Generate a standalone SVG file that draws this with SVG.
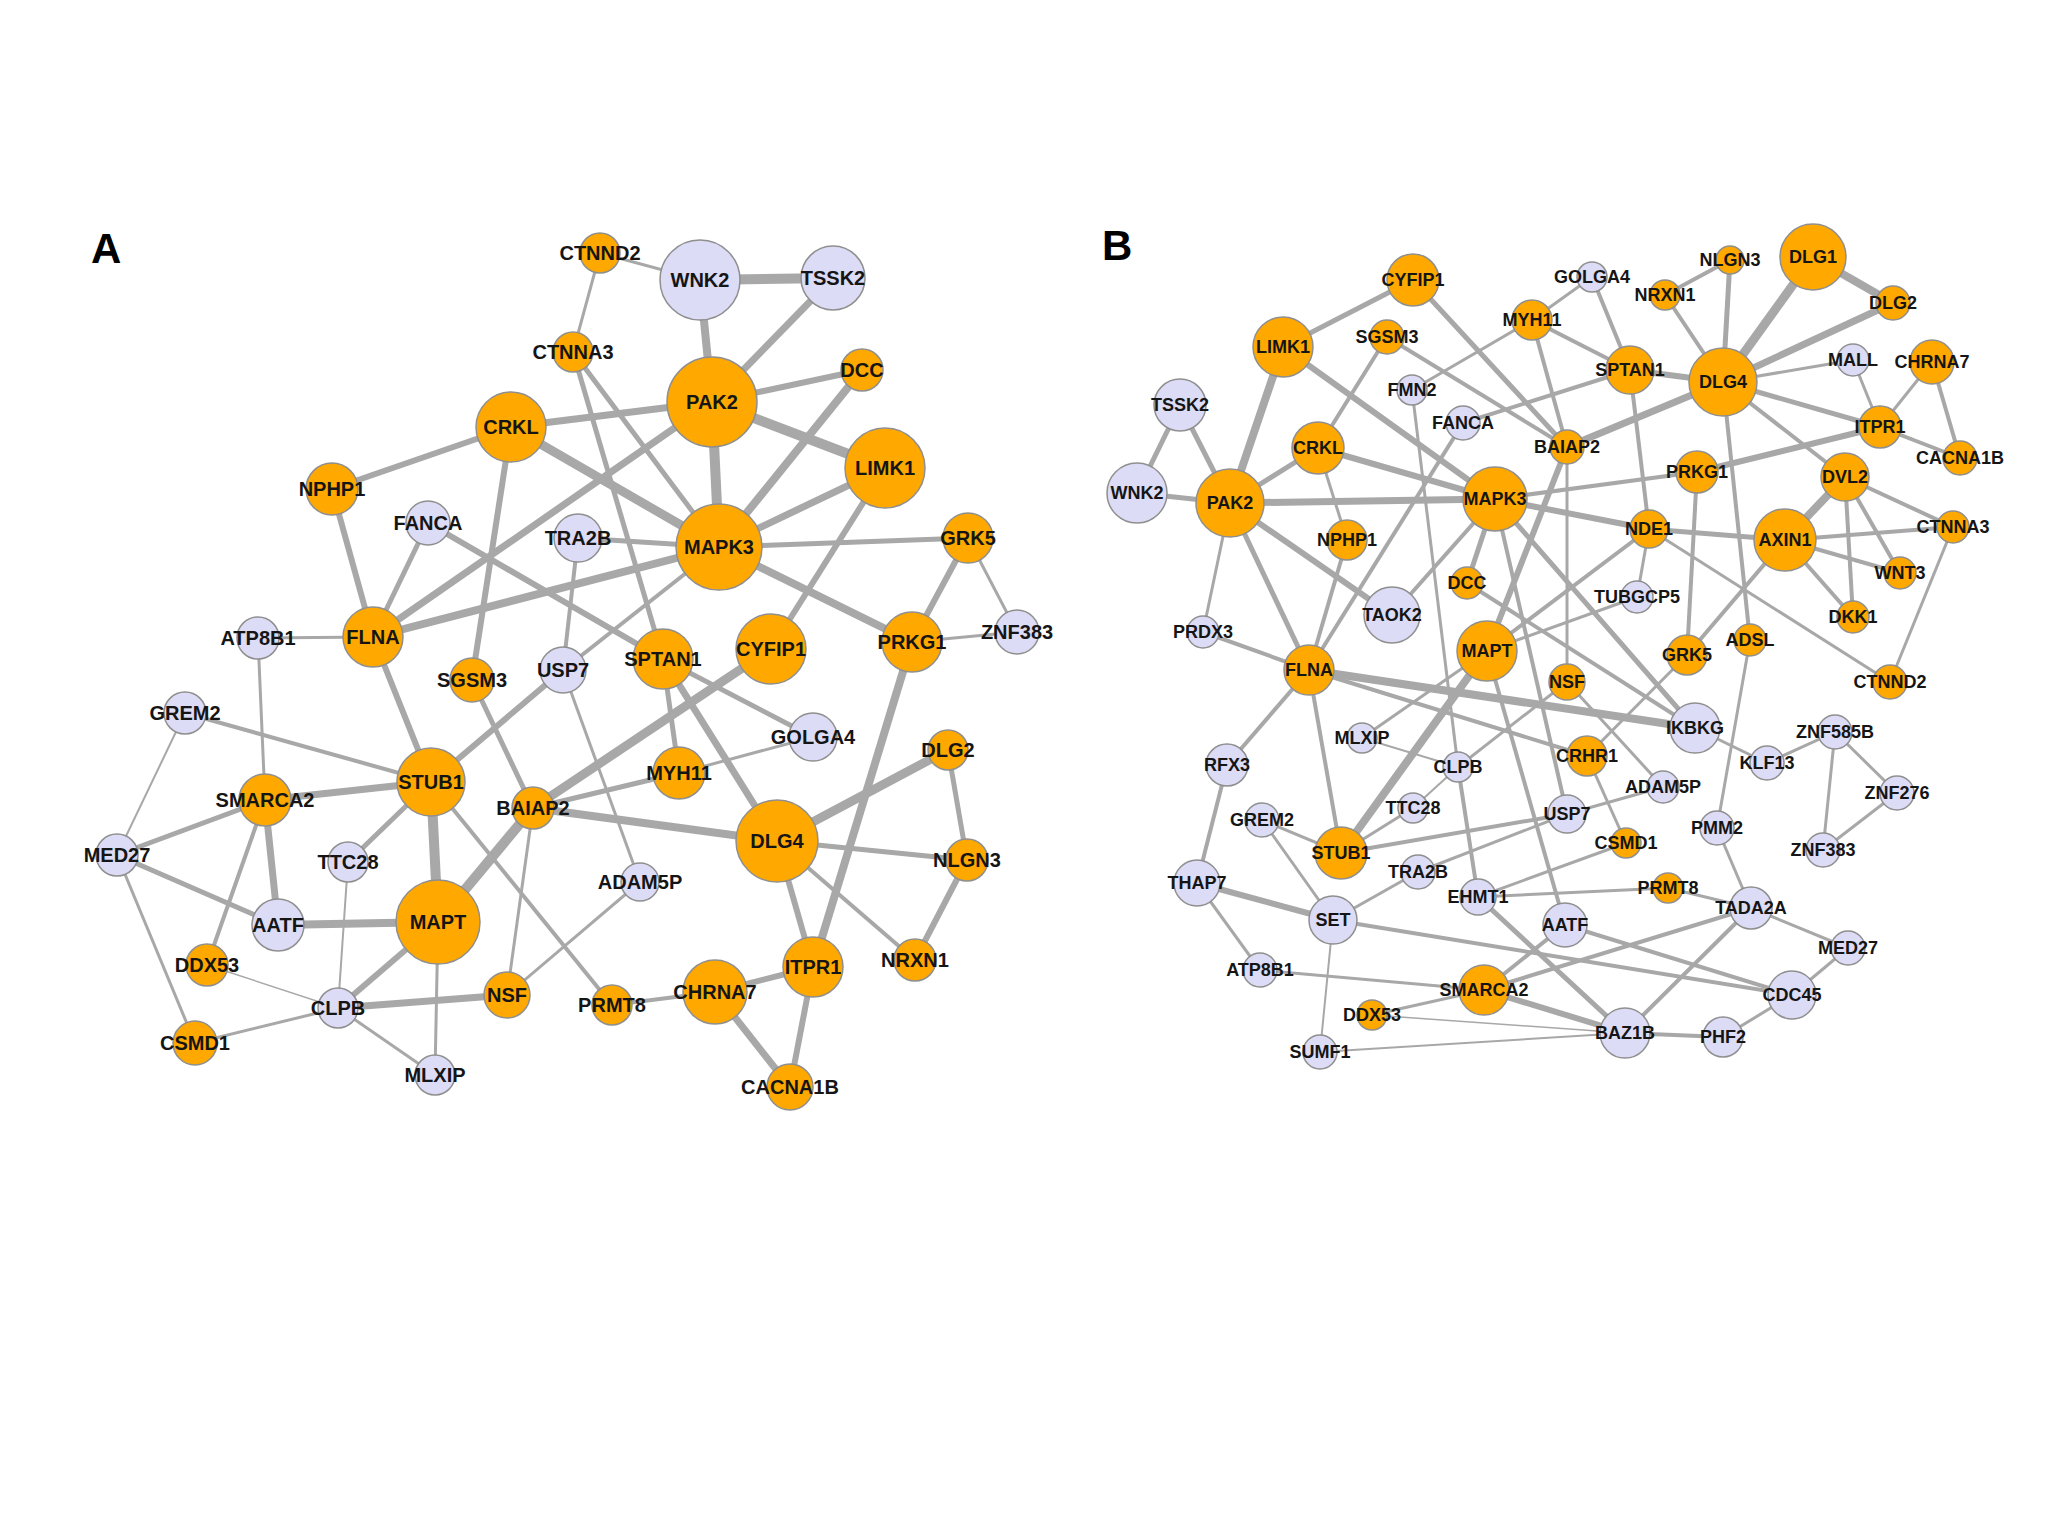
<svg xmlns="http://www.w3.org/2000/svg" width="2048" height="1536" viewBox="0 0 2048 1536">
<style>
.e{stroke:#a8a8a8;stroke-linecap:butt;fill:none}
.o{fill:#FFA800;stroke:#8f8f8f;stroke-width:1.5}
.l{fill:#DCDCF6;stroke:#8f8f8f;stroke-width:1.5}
.ta{font-family:"Liberation Sans",Arial,sans-serif;font-weight:bold;font-size:20px;fill:#151515;text-anchor:middle;dominant-baseline:central}
.tb{font-family:"Liberation Sans",Arial,sans-serif;font-weight:bold;font-size:18px;fill:#151515;text-anchor:middle;dominant-baseline:central}
.p{font-family:"Liberation Sans",Arial,sans-serif;font-weight:bold;font-size:42px;fill:#000}
</style>
<rect width="2048" height="1536" fill="#ffffff"/>
<text class="p" x="91" y="263">A</text>
<text class="p" x="1102" y="260">B</text>
<g id="connectors-A" class="e">
<line x1="600" y1="253" x2="700" y2="280" stroke-width="3"/>
<line x1="600" y1="253" x2="573" y2="352" stroke-width="3"/>
<line x1="700" y1="280" x2="833" y2="278" stroke-width="10"/>
<line x1="700" y1="280" x2="712" y2="402" stroke-width="8"/>
<line x1="833" y1="278" x2="712" y2="402" stroke-width="7"/>
<line x1="712" y1="402" x2="862" y2="370" stroke-width="6"/>
<line x1="712" y1="402" x2="885" y2="468" stroke-width="10"/>
<line x1="712" y1="402" x2="719" y2="547" stroke-width="10"/>
<line x1="712" y1="402" x2="511" y2="427" stroke-width="7"/>
<line x1="712" y1="402" x2="373" y2="637" stroke-width="7"/>
<line x1="573" y1="352" x2="719" y2="547" stroke-width="5"/>
<line x1="573" y1="352" x2="663" y2="659" stroke-width="5"/>
<line x1="511" y1="427" x2="719" y2="547" stroke-width="9"/>
<line x1="511" y1="427" x2="332" y2="489" stroke-width="6"/>
<line x1="511" y1="427" x2="472" y2="680" stroke-width="6"/>
<line x1="332" y1="489" x2="373" y2="637" stroke-width="6"/>
<line x1="428" y1="523" x2="373" y2="637" stroke-width="5"/>
<line x1="428" y1="523" x2="663" y2="659" stroke-width="6"/>
<line x1="373" y1="637" x2="719" y2="547" stroke-width="8"/>
<line x1="258" y1="638" x2="373" y2="637" stroke-width="3"/>
<line x1="258" y1="638" x2="265" y2="800" stroke-width="3"/>
<line x1="373" y1="637" x2="431" y2="782" stroke-width="6"/>
<line x1="578" y1="538" x2="719" y2="547" stroke-width="5"/>
<line x1="578" y1="538" x2="563" y2="670" stroke-width="4"/>
<line x1="719" y1="547" x2="563" y2="670" stroke-width="4"/>
<line x1="719" y1="547" x2="862" y2="370" stroke-width="8"/>
<line x1="719" y1="547" x2="885" y2="468" stroke-width="7"/>
<line x1="719" y1="547" x2="968" y2="538" stroke-width="5"/>
<line x1="719" y1="547" x2="912" y2="642" stroke-width="8"/>
<line x1="885" y1="468" x2="771" y2="649" stroke-width="6"/>
<line x1="968" y1="538" x2="912" y2="642" stroke-width="6"/>
<line x1="968" y1="538" x2="1017" y2="632" stroke-width="3"/>
<line x1="912" y1="642" x2="1017" y2="632" stroke-width="3"/>
<line x1="912" y1="642" x2="813" y2="967" stroke-width="8"/>
<line x1="663" y1="659" x2="813" y2="737" stroke-width="5"/>
<line x1="663" y1="659" x2="679" y2="773" stroke-width="5"/>
<line x1="663" y1="659" x2="777" y2="841" stroke-width="7"/>
<line x1="771" y1="649" x2="533" y2="808" stroke-width="9"/>
<line x1="533" y1="808" x2="438" y2="922" stroke-width="10"/>
<line x1="679" y1="773" x2="813" y2="737" stroke-width="3"/>
<line x1="679" y1="773" x2="533" y2="808" stroke-width="5"/>
<line x1="533" y1="808" x2="777" y2="841" stroke-width="8"/>
<line x1="533" y1="808" x2="507" y2="995" stroke-width="3"/>
<line x1="563" y1="670" x2="431" y2="782" stroke-width="6"/>
<line x1="563" y1="670" x2="640" y2="882" stroke-width="3"/>
<line x1="640" y1="882" x2="507" y2="995" stroke-width="3"/>
<line x1="431" y1="782" x2="612" y2="1005" stroke-width="4"/>
<line x1="431" y1="782" x2="265" y2="800" stroke-width="7"/>
<line x1="431" y1="782" x2="185" y2="713" stroke-width="4"/>
<line x1="431" y1="782" x2="348" y2="862" stroke-width="5"/>
<line x1="431" y1="782" x2="438" y2="922" stroke-width="10"/>
<line x1="472" y1="680" x2="533" y2="808" stroke-width="5"/>
<line x1="185" y1="713" x2="117" y2="855" stroke-width="2"/>
<line x1="117" y1="855" x2="265" y2="800" stroke-width="5"/>
<line x1="117" y1="855" x2="278" y2="925" stroke-width="5"/>
<line x1="117" y1="855" x2="195" y2="1043" stroke-width="3"/>
<line x1="265" y1="800" x2="278" y2="925" stroke-width="7"/>
<line x1="265" y1="800" x2="207" y2="965" stroke-width="4"/>
<line x1="278" y1="925" x2="438" y2="922" stroke-width="8"/>
<line x1="348" y1="862" x2="338" y2="1008" stroke-width="2"/>
<line x1="207" y1="965" x2="338" y2="1008" stroke-width="1.5"/>
<line x1="195" y1="1043" x2="338" y2="1008" stroke-width="3"/>
<line x1="338" y1="1008" x2="438" y2="922" stroke-width="6"/>
<line x1="338" y1="1008" x2="507" y2="995" stroke-width="7"/>
<line x1="338" y1="1008" x2="435" y2="1075" stroke-width="3"/>
<line x1="438" y1="922" x2="435" y2="1075" stroke-width="3"/>
<line x1="612" y1="1005" x2="715" y2="992" stroke-width="4"/>
<line x1="715" y1="992" x2="813" y2="967" stroke-width="6"/>
<line x1="715" y1="992" x2="790" y2="1087" stroke-width="7"/>
<line x1="813" y1="967" x2="790" y2="1087" stroke-width="6"/>
<line x1="777" y1="841" x2="813" y2="967" stroke-width="6"/>
<line x1="777" y1="841" x2="915" y2="960" stroke-width="4"/>
<line x1="777" y1="841" x2="967" y2="860" stroke-width="5"/>
<line x1="777" y1="841" x2="948" y2="750" stroke-width="9"/>
<line x1="948" y1="750" x2="967" y2="860" stroke-width="5"/>
<line x1="967" y1="860" x2="915" y2="960" stroke-width="6"/>
</g>
<g id="connectors-B" class="e">
<line x1="1413" y1="280" x2="1283" y2="347" stroke-width="5"/>
<line x1="1413" y1="280" x2="1567" y2="447" stroke-width="5"/>
<line x1="1283" y1="347" x2="1230" y2="503" stroke-width="8"/>
<line x1="1283" y1="347" x2="1495" y2="499" stroke-width="6"/>
<line x1="1387" y1="337" x2="1318" y2="448" stroke-width="4"/>
<line x1="1387" y1="337" x2="1567" y2="447" stroke-width="4"/>
<line x1="1532" y1="320" x2="1412" y2="390" stroke-width="3"/>
<line x1="1532" y1="320" x2="1567" y2="447" stroke-width="4"/>
<line x1="1532" y1="320" x2="1592" y2="277" stroke-width="3"/>
<line x1="1532" y1="320" x2="1630" y2="370" stroke-width="4"/>
<line x1="1592" y1="277" x2="1630" y2="370" stroke-width="4"/>
<line x1="1463" y1="423" x2="1630" y2="370" stroke-width="4"/>
<line x1="1463" y1="423" x2="1309" y2="670" stroke-width="4"/>
<line x1="1412" y1="390" x2="1458" y2="767" stroke-width="3"/>
<line x1="1458" y1="767" x2="1478" y2="897" stroke-width="4"/>
<line x1="1180" y1="405" x2="1137" y2="493" stroke-width="5"/>
<line x1="1180" y1="405" x2="1230" y2="503" stroke-width="5"/>
<line x1="1137" y1="493" x2="1230" y2="503" stroke-width="5"/>
<line x1="1230" y1="503" x2="1318" y2="448" stroke-width="5"/>
<line x1="1230" y1="503" x2="1495" y2="499" stroke-width="7"/>
<line x1="1230" y1="503" x2="1392" y2="615" stroke-width="6"/>
<line x1="1230" y1="503" x2="1309" y2="670" stroke-width="5"/>
<line x1="1230" y1="503" x2="1203" y2="632" stroke-width="3"/>
<line x1="1203" y1="632" x2="1309" y2="670" stroke-width="4"/>
<line x1="1318" y1="448" x2="1495" y2="499" stroke-width="6"/>
<line x1="1318" y1="448" x2="1347" y2="540" stroke-width="3"/>
<line x1="1347" y1="540" x2="1309" y2="670" stroke-width="4"/>
<line x1="1495" y1="499" x2="1392" y2="615" stroke-width="4"/>
<line x1="1495" y1="499" x2="1467" y2="583" stroke-width="5"/>
<line x1="1495" y1="499" x2="1649" y2="529" stroke-width="6"/>
<line x1="1495" y1="499" x2="1697" y2="472" stroke-width="4"/>
<line x1="1495" y1="499" x2="1695" y2="728" stroke-width="5"/>
<line x1="1495" y1="499" x2="1567" y2="814" stroke-width="4"/>
<line x1="1467" y1="583" x2="1695" y2="728" stroke-width="4"/>
<line x1="1649" y1="529" x2="1785" y2="540" stroke-width="5"/>
<line x1="1630" y1="370" x2="1649" y2="529" stroke-width="4"/>
<line x1="1649" y1="529" x2="1637" y2="597" stroke-width="3"/>
<line x1="1649" y1="529" x2="1487" y2="651" stroke-width="4"/>
<line x1="1649" y1="529" x2="1890" y2="682" stroke-width="3"/>
<line x1="1785" y1="540" x2="1845" y2="477" stroke-width="8"/>
<line x1="1785" y1="540" x2="1953" y2="527" stroke-width="4"/>
<line x1="1785" y1="540" x2="1900" y2="573" stroke-width="4"/>
<line x1="1785" y1="540" x2="1853" y2="617" stroke-width="4"/>
<line x1="1785" y1="540" x2="1687" y2="655" stroke-width="4"/>
<line x1="1845" y1="477" x2="1723" y2="382" stroke-width="4"/>
<line x1="1845" y1="477" x2="1953" y2="527" stroke-width="4"/>
<line x1="1845" y1="477" x2="1900" y2="573" stroke-width="4"/>
<line x1="1845" y1="477" x2="1853" y2="617" stroke-width="4"/>
<line x1="1723" y1="382" x2="1630" y2="370" stroke-width="6"/>
<line x1="1723" y1="382" x2="1665" y2="295" stroke-width="4"/>
<line x1="1723" y1="382" x2="1730" y2="260" stroke-width="5"/>
<line x1="1723" y1="382" x2="1813" y2="257" stroke-width="9"/>
<line x1="1723" y1="382" x2="1893" y2="303" stroke-width="7"/>
<line x1="1723" y1="382" x2="1853" y2="360" stroke-width="3"/>
<line x1="1723" y1="382" x2="1880" y2="427" stroke-width="5"/>
<line x1="1723" y1="382" x2="1567" y2="447" stroke-width="7"/>
<line x1="1723" y1="382" x2="1750" y2="640" stroke-width="4"/>
<line x1="1813" y1="257" x2="1893" y2="303" stroke-width="8"/>
<line x1="1730" y1="260" x2="1665" y2="295" stroke-width="4"/>
<line x1="1853" y1="360" x2="1880" y2="427" stroke-width="3"/>
<line x1="1932" y1="362" x2="1880" y2="427" stroke-width="3"/>
<line x1="1932" y1="362" x2="1960" y2="458" stroke-width="4"/>
<line x1="1880" y1="427" x2="1960" y2="458" stroke-width="4"/>
<line x1="1880" y1="427" x2="1697" y2="472" stroke-width="6"/>
<line x1="1697" y1="472" x2="1687" y2="655" stroke-width="4"/>
<line x1="1567" y1="447" x2="1567" y2="682" stroke-width="3"/>
<line x1="1567" y1="447" x2="1487" y2="651" stroke-width="6"/>
<line x1="1953" y1="527" x2="1890" y2="682" stroke-width="3"/>
<line x1="1487" y1="651" x2="1341" y2="853" stroke-width="8"/>
<line x1="1487" y1="651" x2="1637" y2="597" stroke-width="3"/>
<line x1="1487" y1="651" x2="1565" y2="925" stroke-width="4"/>
<line x1="1487" y1="651" x2="1362" y2="738" stroke-width="3"/>
<line x1="1362" y1="738" x2="1458" y2="767" stroke-width="2"/>
<line x1="1567" y1="682" x2="1663" y2="787" stroke-width="3"/>
<line x1="1567" y1="682" x2="1458" y2="767" stroke-width="3"/>
<line x1="1687" y1="655" x2="1587" y2="756" stroke-width="3"/>
<line x1="1587" y1="756" x2="1626" y2="843" stroke-width="3"/>
<line x1="1309" y1="670" x2="1587" y2="756" stroke-width="4"/>
<line x1="1309" y1="670" x2="1695" y2="728" stroke-width="8"/>
<line x1="1309" y1="670" x2="1227" y2="765" stroke-width="4"/>
<line x1="1309" y1="670" x2="1341" y2="853" stroke-width="4"/>
<line x1="1695" y1="728" x2="1767" y2="763" stroke-width="3"/>
<line x1="1767" y1="763" x2="1835" y2="732" stroke-width="3"/>
<line x1="1835" y1="732" x2="1897" y2="793" stroke-width="3"/>
<line x1="1835" y1="732" x2="1823" y2="850" stroke-width="3"/>
<line x1="1897" y1="793" x2="1823" y2="850" stroke-width="3"/>
<line x1="1567" y1="814" x2="1663" y2="787" stroke-width="3"/>
<line x1="1567" y1="814" x2="1341" y2="853" stroke-width="4"/>
<line x1="1567" y1="814" x2="1418" y2="872" stroke-width="3"/>
<line x1="1341" y1="853" x2="1413" y2="808" stroke-width="3"/>
<line x1="1341" y1="853" x2="1262" y2="820" stroke-width="3"/>
<line x1="1413" y1="808" x2="1458" y2="767" stroke-width="2"/>
<line x1="1262" y1="820" x2="1333" y2="920" stroke-width="3"/>
<line x1="1197" y1="883" x2="1333" y2="920" stroke-width="6"/>
<line x1="1197" y1="883" x2="1227" y2="765" stroke-width="4"/>
<line x1="1197" y1="883" x2="1260" y2="970" stroke-width="3"/>
<line x1="1260" y1="970" x2="1484" y2="990" stroke-width="3"/>
<line x1="1333" y1="920" x2="1418" y2="872" stroke-width="3"/>
<line x1="1333" y1="920" x2="1320" y2="1052" stroke-width="2"/>
<line x1="1333" y1="920" x2="1792" y2="995" stroke-width="4"/>
<line x1="1478" y1="897" x2="1668" y2="888" stroke-width="3"/>
<line x1="1478" y1="897" x2="1626" y2="843" stroke-width="3"/>
<line x1="1478" y1="897" x2="1625" y2="1033" stroke-width="5"/>
<line x1="1668" y1="888" x2="1751" y2="908" stroke-width="3"/>
<line x1="1750" y1="640" x2="1717" y2="828" stroke-width="3"/>
<line x1="1717" y1="828" x2="1751" y2="908" stroke-width="3"/>
<line x1="1751" y1="908" x2="1848" y2="948" stroke-width="3"/>
<line x1="1751" y1="908" x2="1484" y2="990" stroke-width="4"/>
<line x1="1751" y1="908" x2="1625" y2="1033" stroke-width="4"/>
<line x1="1484" y1="990" x2="1565" y2="925" stroke-width="4"/>
<line x1="1484" y1="990" x2="1625" y2="1033" stroke-width="6"/>
<line x1="1484" y1="990" x2="1372" y2="1015" stroke-width="3"/>
<line x1="1565" y1="925" x2="1792" y2="995" stroke-width="4"/>
<line x1="1372" y1="1015" x2="1625" y2="1033" stroke-width="1.5"/>
<line x1="1320" y1="1052" x2="1625" y2="1033" stroke-width="2"/>
<line x1="1848" y1="948" x2="1792" y2="995" stroke-width="3"/>
<line x1="1792" y1="995" x2="1723" y2="1037" stroke-width="3"/>
<line x1="1625" y1="1033" x2="1723" y2="1037" stroke-width="4"/>
</g>
<g id="A-CTNND2"><circle class="o" cx="600" cy="253" r="20"/><text class="ta" x="600" y="253">CTNND2</text></g>
<g id="A-WNK2"><circle class="l" cx="700" cy="280" r="40"/><text class="ta" x="700" y="280">WNK2</text></g>
<g id="A-TSSK2"><circle class="l" cx="833" cy="278" r="32"/><text class="ta" x="833" y="278">TSSK2</text></g>
<g id="A-CTNNA3"><circle class="o" cx="573" cy="352" r="20"/><text class="ta" x="573" y="352">CTNNA3</text></g>
<g id="A-PAK2"><circle class="o" cx="712" cy="402" r="45"/><text class="ta" x="712" y="402">PAK2</text></g>
<g id="A-DCC"><circle class="o" cx="862" cy="370" r="21"/><text class="ta" x="862" y="370">DCC</text></g>
<g id="A-CRKL"><circle class="o" cx="511" cy="427" r="35"/><text class="ta" x="511" y="427">CRKL</text></g>
<g id="A-LIMK1"><circle class="o" cx="885" cy="468" r="40"/><text class="ta" x="885" y="468">LIMK1</text></g>
<g id="A-NPHP1"><circle class="o" cx="332" cy="489" r="26"/><text class="ta" x="332" y="489">NPHP1</text></g>
<g id="A-FANCA"><circle class="l" cx="428" cy="523" r="22"/><text class="ta" x="428" y="523">FANCA</text></g>
<g id="A-TRA2B"><circle class="l" cx="578" cy="538" r="24"/><text class="ta" x="578" y="538">TRA2B</text></g>
<g id="A-MAPK3"><circle class="o" cx="719" cy="547" r="43"/><text class="ta" x="719" y="547">MAPK3</text></g>
<g id="A-GRK5"><circle class="o" cx="968" cy="538" r="25"/><text class="ta" x="968" y="538">GRK5</text></g>
<g id="A-FLNA"><circle class="o" cx="373" cy="637" r="30"/><text class="ta" x="373" y="637">FLNA</text></g>
<g id="A-ATP8B1"><circle class="l" cx="258" cy="638" r="21"/><text class="ta" x="258" y="638">ATP8B1</text></g>
<g id="A-ZNF383"><circle class="l" cx="1017" cy="632" r="22"/><text class="ta" x="1017" y="632">ZNF383</text></g>
<g id="A-PRKG1"><circle class="o" cx="912" cy="642" r="30"/><text class="ta" x="912" y="642">PRKG1</text></g>
<g id="A-CYFIP1"><circle class="o" cx="771" cy="649" r="35"/><text class="ta" x="771" y="649">CYFIP1</text></g>
<g id="A-SPTAN1"><circle class="o" cx="663" cy="659" r="30"/><text class="ta" x="663" y="659">SPTAN1</text></g>
<g id="A-USP7"><circle class="l" cx="563" cy="670" r="23"/><text class="ta" x="563" y="670">USP7</text></g>
<g id="A-SGSM3"><circle class="o" cx="472" cy="680" r="22"/><text class="ta" x="472" y="680">SGSM3</text></g>
<g id="A-GREM2"><circle class="l" cx="185" cy="713" r="21"/><text class="ta" x="185" y="713">GREM2</text></g>
<g id="A-GOLGA4"><circle class="l" cx="813" cy="737" r="24"/><text class="ta" x="813" y="737">GOLGA4</text></g>
<g id="A-DLG2"><circle class="o" cx="948" cy="750" r="20"/><text class="ta" x="948" y="750">DLG2</text></g>
<g id="A-MYH11"><circle class="o" cx="679" cy="773" r="26"/><text class="ta" x="679" y="773">MYH11</text></g>
<g id="A-STUB1"><circle class="o" cx="431" cy="782" r="34"/><text class="ta" x="431" y="782">STUB1</text></g>
<g id="A-SMARCA2"><circle class="o" cx="265" cy="800" r="26"/><text class="ta" x="265" y="800">SMARCA2</text></g>
<g id="A-BAIAP2"><circle class="o" cx="533" cy="808" r="21"/><text class="ta" x="533" y="808">BAIAP2</text></g>
<g id="A-DLG4"><circle class="o" cx="777" cy="841" r="41"/><text class="ta" x="777" y="841">DLG4</text></g>
<g id="A-MED27"><circle class="l" cx="117" cy="855" r="21"/><text class="ta" x="117" y="855">MED27</text></g>
<g id="A-TTC28"><circle class="l" cx="348" cy="862" r="20"/><text class="ta" x="348" y="862">TTC28</text></g>
<g id="A-NLGN3"><circle class="o" cx="967" cy="860" r="21"/><text class="ta" x="967" y="860">NLGN3</text></g>
<g id="A-ADAM5P"><circle class="l" cx="640" cy="882" r="19"/><text class="ta" x="640" y="882">ADAM5P</text></g>
<g id="A-MAPT"><circle class="o" cx="438" cy="922" r="42"/><text class="ta" x="438" y="922">MAPT</text></g>
<g id="A-AATF"><circle class="l" cx="278" cy="925" r="26"/><text class="ta" x="278" y="925">AATF</text></g>
<g id="A-NRXN1"><circle class="o" cx="915" cy="960" r="21"/><text class="ta" x="915" y="960">NRXN1</text></g>
<g id="A-DDX53"><circle class="o" cx="207" cy="965" r="21"/><text class="ta" x="207" y="965">DDX53</text></g>
<g id="A-ITPR1"><circle class="o" cx="813" cy="967" r="30"/><text class="ta" x="813" y="967">ITPR1</text></g>
<g id="A-CHRNA7"><circle class="o" cx="715" cy="992" r="32"/><text class="ta" x="715" y="992">CHRNA7</text></g>
<g id="A-NSF"><circle class="o" cx="507" cy="995" r="23"/><text class="ta" x="507" y="995">NSF</text></g>
<g id="A-PRMT8"><circle class="o" cx="612" cy="1005" r="20"/><text class="ta" x="612" y="1005">PRMT8</text></g>
<g id="A-CLPB"><circle class="l" cx="338" cy="1008" r="20"/><text class="ta" x="338" y="1008">CLPB</text></g>
<g id="A-CSMD1"><circle class="o" cx="195" cy="1043" r="22"/><text class="ta" x="195" y="1043">CSMD1</text></g>
<g id="A-MLXIP"><circle class="l" cx="435" cy="1075" r="20"/><text class="ta" x="435" y="1075">MLXIP</text></g>
<g id="A-CACNA1B"><circle class="o" cx="790" cy="1087" r="23"/><text class="ta" x="790" y="1087">CACNA1B</text></g>
<g id="B-CYFIP1"><circle class="o" cx="1413" cy="280" r="26"/><text class="tb" x="1413" y="280">CYFIP1</text></g>
<g id="B-LIMK1"><circle class="o" cx="1283" cy="347" r="30"/><text class="tb" x="1283" y="347">LIMK1</text></g>
<g id="B-SGSM3"><circle class="o" cx="1387" cy="337" r="17"/><text class="tb" x="1387" y="337">SGSM3</text></g>
<g id="B-MYH11"><circle class="o" cx="1532" cy="320" r="20"/><text class="tb" x="1532" y="320">MYH11</text></g>
<g id="B-GOLGA4"><circle class="l" cx="1592" cy="277" r="15"/><text class="tb" x="1592" y="277">GOLGA4</text></g>
<g id="B-NRXN1"><circle class="o" cx="1665" cy="295" r="15"/><text class="tb" x="1665" y="295">NRXN1</text></g>
<g id="B-NLGN3"><circle class="o" cx="1730" cy="260" r="14"/><text class="tb" x="1730" y="260">NLGN3</text></g>
<g id="B-DLG1"><circle class="o" cx="1813" cy="257" r="33"/><text class="tb" x="1813" y="257">DLG1</text></g>
<g id="B-DLG2"><circle class="o" cx="1893" cy="303" r="17"/><text class="tb" x="1893" y="303">DLG2</text></g>
<g id="B-FMN2"><circle class="l" cx="1412" cy="390" r="15"/><text class="tb" x="1412" y="390">FMN2</text></g>
<g id="B-TSSK2"><circle class="l" cx="1180" cy="405" r="26"/><text class="tb" x="1180" y="405">TSSK2</text></g>
<g id="B-FANCA"><circle class="l" cx="1463" cy="423" r="17"/><text class="tb" x="1463" y="423">FANCA</text></g>
<g id="B-SPTAN1"><circle class="o" cx="1630" cy="370" r="24"/><text class="tb" x="1630" y="370">SPTAN1</text></g>
<g id="B-DLG4"><circle class="o" cx="1723" cy="382" r="34"/><text class="tb" x="1723" y="382">DLG4</text></g>
<g id="B-MALL"><circle class="l" cx="1853" cy="360" r="16"/><text class="tb" x="1853" y="360">MALL</text></g>
<g id="B-CHRNA7"><circle class="o" cx="1932" cy="362" r="22"/><text class="tb" x="1932" y="362">CHRNA7</text></g>
<g id="B-BAIAP2"><circle class="o" cx="1567" cy="447" r="17"/><text class="tb" x="1567" y="447">BAIAP2</text></g>
<g id="B-CRKL"><circle class="o" cx="1318" cy="448" r="26"/><text class="tb" x="1318" y="448">CRKL</text></g>
<g id="B-ITPR1"><circle class="o" cx="1880" cy="427" r="21"/><text class="tb" x="1880" y="427">ITPR1</text></g>
<g id="B-CACNA1B"><circle class="o" cx="1960" cy="458" r="17"/><text class="tb" x="1960" y="458">CACNA1B</text></g>
<g id="B-WNK2"><circle class="l" cx="1137" cy="493" r="30"/><text class="tb" x="1137" y="493">WNK2</text></g>
<g id="B-PAK2"><circle class="o" cx="1230" cy="503" r="34"/><text class="tb" x="1230" y="503">PAK2</text></g>
<g id="B-MAPK3"><circle class="o" cx="1495" cy="499" r="32"/><text class="tb" x="1495" y="499">MAPK3</text></g>
<g id="B-PRKG1"><circle class="o" cx="1697" cy="472" r="21"/><text class="tb" x="1697" y="472">PRKG1</text></g>
<g id="B-DVL2"><circle class="o" cx="1845" cy="477" r="24"/><text class="tb" x="1845" y="477">DVL2</text></g>
<g id="B-NDE1"><circle class="o" cx="1649" cy="529" r="19"/><text class="tb" x="1649" y="529">NDE1</text></g>
<g id="B-AXIN1"><circle class="o" cx="1785" cy="540" r="31"/><text class="tb" x="1785" y="540">AXIN1</text></g>
<g id="B-CTNNA3"><circle class="o" cx="1953" cy="527" r="16"/><text class="tb" x="1953" y="527">CTNNA3</text></g>
<g id="B-NPHP1"><circle class="o" cx="1347" cy="540" r="20"/><text class="tb" x="1347" y="540">NPHP1</text></g>
<g id="B-DCC"><circle class="o" cx="1467" cy="583" r="16"/><text class="tb" x="1467" y="583">DCC</text></g>
<g id="B-WNT3"><circle class="o" cx="1900" cy="573" r="16"/><text class="tb" x="1900" y="573">WNT3</text></g>
<g id="B-TUBGCP5"><circle class="l" cx="1637" cy="597" r="16"/><text class="tb" x="1637" y="597">TUBGCP5</text></g>
<g id="B-TAOK2"><circle class="l" cx="1392" cy="615" r="28"/><text class="tb" x="1392" y="615">TAOK2</text></g>
<g id="B-PRDX3"><circle class="l" cx="1203" cy="632" r="16"/><text class="tb" x="1203" y="632">PRDX3</text></g>
<g id="B-DKK1"><circle class="o" cx="1853" cy="617" r="16"/><text class="tb" x="1853" y="617">DKK1</text></g>
<g id="B-ADSL"><circle class="o" cx="1750" cy="640" r="16"/><text class="tb" x="1750" y="640">ADSL</text></g>
<g id="B-MAPT"><circle class="o" cx="1487" cy="651" r="30"/><text class="tb" x="1487" y="651">MAPT</text></g>
<g id="B-GRK5"><circle class="o" cx="1687" cy="655" r="20"/><text class="tb" x="1687" y="655">GRK5</text></g>
<g id="B-FLNA"><circle class="o" cx="1309" cy="670" r="25"/><text class="tb" x="1309" y="670">FLNA</text></g>
<g id="B-NSF"><circle class="o" cx="1567" cy="682" r="18"/><text class="tb" x="1567" y="682">NSF</text></g>
<g id="B-CTNND2"><circle class="o" cx="1890" cy="682" r="17"/><text class="tb" x="1890" y="682">CTNND2</text></g>
<g id="B-IKBKG"><circle class="l" cx="1695" cy="728" r="25"/><text class="tb" x="1695" y="728">IKBKG</text></g>
<g id="B-ZNF585B"><circle class="l" cx="1835" cy="732" r="17"/><text class="tb" x="1835" y="732">ZNF585B</text></g>
<g id="B-MLXIP"><circle class="l" cx="1362" cy="738" r="15"/><text class="tb" x="1362" y="738">MLXIP</text></g>
<g id="B-CRHR1"><circle class="o" cx="1587" cy="756" r="20"/><text class="tb" x="1587" y="756">CRHR1</text></g>
<g id="B-KLF13"><circle class="l" cx="1767" cy="763" r="17"/><text class="tb" x="1767" y="763">KLF13</text></g>
<g id="B-RFX3"><circle class="l" cx="1227" cy="765" r="21"/><text class="tb" x="1227" y="765">RFX3</text></g>
<g id="B-CLPB"><circle class="l" cx="1458" cy="767" r="15"/><text class="tb" x="1458" y="767">CLPB</text></g>
<g id="B-ADAM5P"><circle class="l" cx="1663" cy="787" r="16"/><text class="tb" x="1663" y="787">ADAM5P</text></g>
<g id="B-ZNF276"><circle class="l" cx="1897" cy="793" r="17"/><text class="tb" x="1897" y="793">ZNF276</text></g>
<g id="B-TTC28"><circle class="l" cx="1413" cy="808" r="15"/><text class="tb" x="1413" y="808">TTC28</text></g>
<g id="B-USP7"><circle class="l" cx="1567" cy="814" r="19"/><text class="tb" x="1567" y="814">USP7</text></g>
<g id="B-GREM2"><circle class="l" cx="1262" cy="820" r="17"/><text class="tb" x="1262" y="820">GREM2</text></g>
<g id="B-PMM2"><circle class="l" cx="1717" cy="828" r="17"/><text class="tb" x="1717" y="828">PMM2</text></g>
<g id="B-CSMD1"><circle class="o" cx="1626" cy="843" r="15"/><text class="tb" x="1626" y="843">CSMD1</text></g>
<g id="B-ZNF383"><circle class="l" cx="1823" cy="850" r="17"/><text class="tb" x="1823" y="850">ZNF383</text></g>
<g id="B-STUB1"><circle class="o" cx="1341" cy="853" r="26"/><text class="tb" x="1341" y="853">STUB1</text></g>
<g id="B-TRA2B"><circle class="l" cx="1418" cy="872" r="17"/><text class="tb" x="1418" y="872">TRA2B</text></g>
<g id="B-THAP7"><circle class="l" cx="1197" cy="883" r="23"/><text class="tb" x="1197" y="883">THAP7</text></g>
<g id="B-PRMT8"><circle class="o" cx="1668" cy="888" r="15"/><text class="tb" x="1668" y="888">PRMT8</text></g>
<g id="B-EHMT1"><circle class="l" cx="1478" cy="897" r="18"/><text class="tb" x="1478" y="897">EHMT1</text></g>
<g id="B-TADA2A"><circle class="l" cx="1751" cy="908" r="21"/><text class="tb" x="1751" y="908">TADA2A</text></g>
<g id="B-SET"><circle class="l" cx="1333" cy="920" r="24"/><text class="tb" x="1333" y="920">SET</text></g>
<g id="B-AATF"><circle class="l" cx="1565" cy="925" r="22"/><text class="tb" x="1565" y="925">AATF</text></g>
<g id="B-MED27"><circle class="l" cx="1848" cy="948" r="17"/><text class="tb" x="1848" y="948">MED27</text></g>
<g id="B-ATP8B1"><circle class="l" cx="1260" cy="970" r="17"/><text class="tb" x="1260" y="970">ATP8B1</text></g>
<g id="B-SMARCA2"><circle class="o" cx="1484" cy="990" r="25"/><text class="tb" x="1484" y="990">SMARCA2</text></g>
<g id="B-CDC45"><circle class="l" cx="1792" cy="995" r="24"/><text class="tb" x="1792" y="995">CDC45</text></g>
<g id="B-DDX53"><circle class="o" cx="1372" cy="1015" r="15"/><text class="tb" x="1372" y="1015">DDX53</text></g>
<g id="B-BAZ1B"><circle class="l" cx="1625" cy="1033" r="25"/><text class="tb" x="1625" y="1033">BAZ1B</text></g>
<g id="B-PHF2"><circle class="l" cx="1723" cy="1037" r="20"/><text class="tb" x="1723" y="1037">PHF2</text></g>
<g id="B-SUMF1"><circle class="l" cx="1320" cy="1052" r="17"/><text class="tb" x="1320" y="1052">SUMF1</text></g>
</svg>
